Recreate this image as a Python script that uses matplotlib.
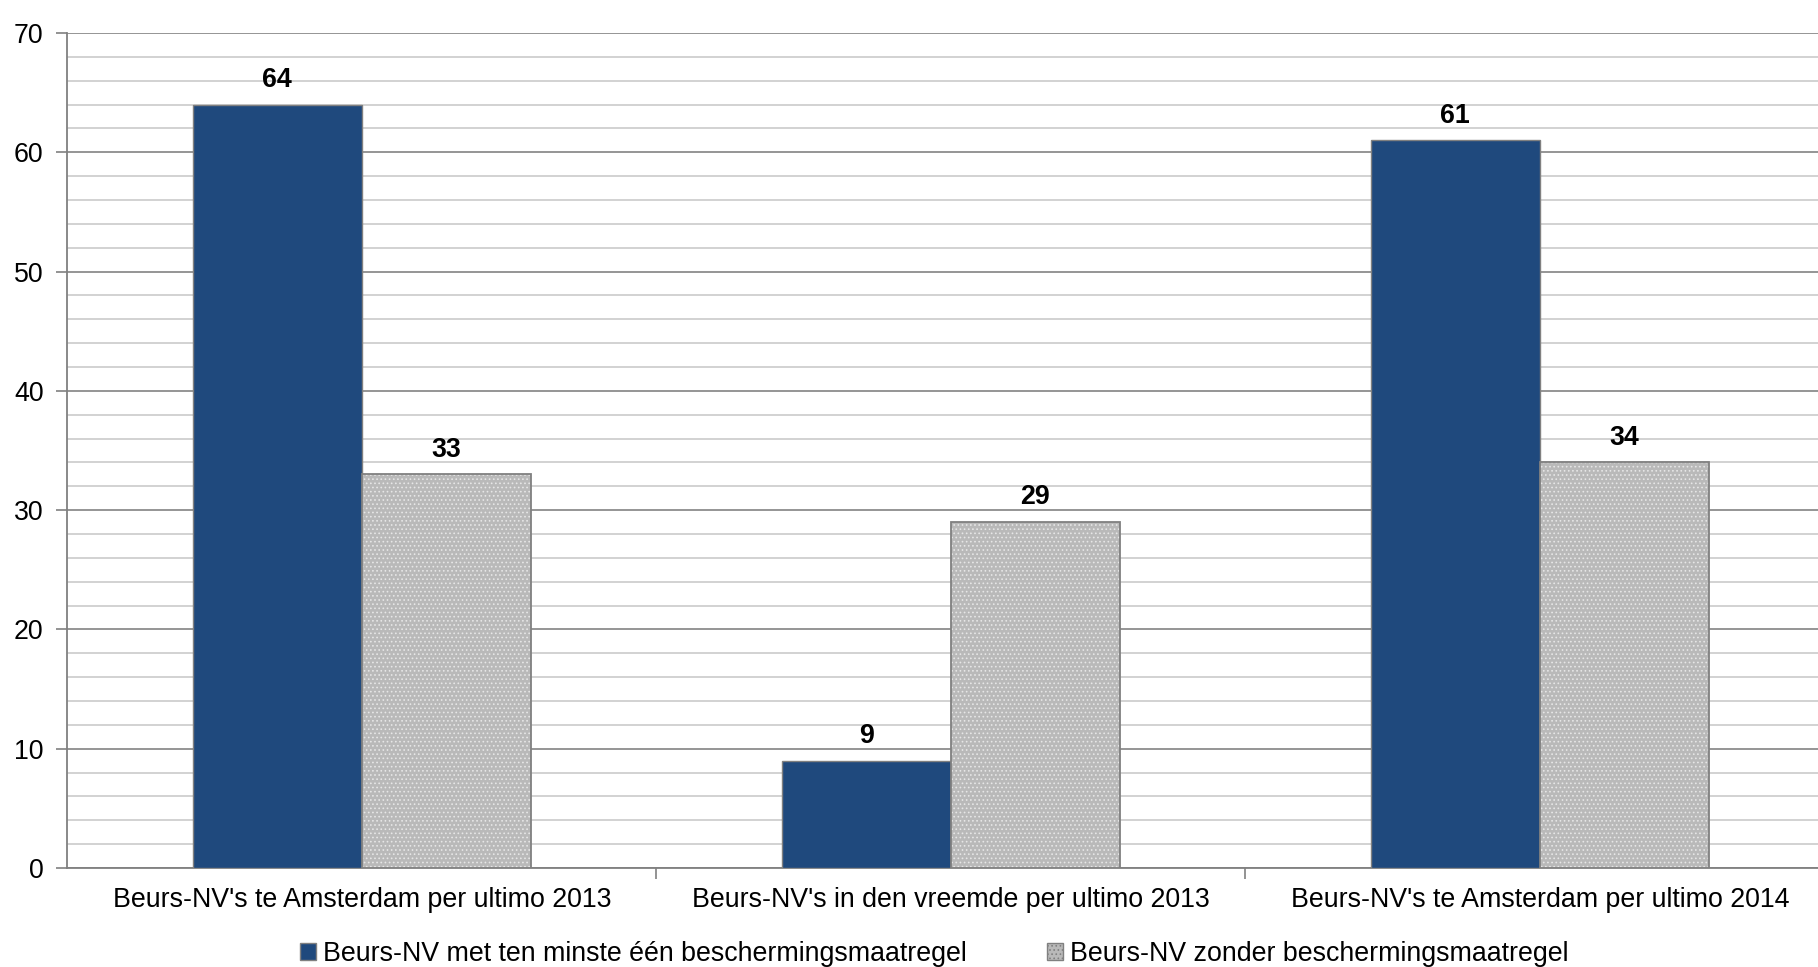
import matplotlib.pyplot as plt
from matplotlib.patches import Patch
import numpy as np

plt.rcParams['font.family'] = ['Liberation Sans', 'DejaVu Sans']
plt.rcParams['hatch.linewidth'] = 0.7

# data
categories = ["Beurs-NV's te Amsterdam per ultimo 2013",
              "Beurs-NV's in den vreemde per ultimo 2013",
              "Beurs-NV's te Amsterdam per ultimo 2014"]
met_maatregel = [64, 9, 61]
zonder_maatregel = [33, 29, 34]
series_names = ["Beurs-NV met ten minste één beschermingsmaatregel",
                "Beurs-NV zonder beschermingsmaatregel"]

BLUE = "#1f497d"
GREY = "#b9b9b9"
EDGE = "#808080"
FS = 19.3

fig = plt.figure(figsize=(18.18, 9.67), dpi=100)
# plot area runs a little past the right edge of the figure, like the original
ax = fig.add_axes([0.037, 0.1024, 0.972, 0.8635])

x = np.arange(len(categories))
w = 0.287

b1 = ax.bar(x - w / 2, met_maatregel, w, color=BLUE, edgecolor=EDGE, linewidth=1, zorder=3)
# dotted texture for the grey series: hatch first, outline on top
ax.bar(x + w / 2, zonder_maatregel, w, color=GREY, hatch="....", edgecolor="#e6e6e6",
       linewidth=0, zorder=3)
b2 = ax.bar(x + w / 2, zonder_maatregel, w, fill=False, edgecolor=EDGE, linewidth=1.3, zorder=4)

for bars, vals in ((b1, met_maatregel), (b2, zonder_maatregel)):
    for r, v in zip(bars, vals):
        ax.annotate(str(v), (r.get_x() + r.get_width() / 2, v), xytext=(0, 8.5),
                    textcoords="offset points", ha="center", va="bottom",
                    fontsize=FS, fontweight="bold")

ax.set_xlim(-0.5, len(categories) - 0.5)
ax.set_ylim(0, 70)
ax.set_yticks(range(0, 71, 10))
ax.set_yticks(range(0, 71, 2), minor=True)
ax.yaxis.grid(True, which="major", color="#8c8c8c", linewidth=1.3, zorder=0)
ax.yaxis.grid(True, which="minor", color="#c6c6c6", linewidth=1.1, zorder=0)
ax.set_axisbelow(True)

ax.set_xticks(x)
ax.set_xticklabels(categories, fontsize=FS)
ax.set_xticks(np.arange(0.5, len(categories) - 0.5, 1), minor=True)
ax.tick_params(axis="x", which="major", length=0, pad=13.5)
ax.tick_params(axis="x", which="minor", length=8, color=EDGE, width=1.2)
ax.tick_params(axis="y", which="major", length=8, color=EDGE, width=1.2, labelsize=FS, pad=9)
ax.tick_params(axis="y", which="minor", length=0)

for s in ("top", "right"):
    ax.spines[s].set_visible(False)
for s in ("left", "bottom"):
    ax.spines[s].set_color(EDGE)
    ax.spines[s].set_linewidth(1.3)

handles = [Patch(facecolor=BLUE, edgecolor=EDGE),
           Patch(facecolor=GREY, edgecolor=EDGE, hatch="....")]
fig.legend(handles, series_names, loc="center", bbox_to_anchor=(0.514, 0.0135), ncol=2,
           frameon=False, fontsize=FS, handlelength=0.6, handleheight=0.6,
           handletextpad=0.25, columnspacing=3.0)

fig.savefig("out.png", dpi=100)
